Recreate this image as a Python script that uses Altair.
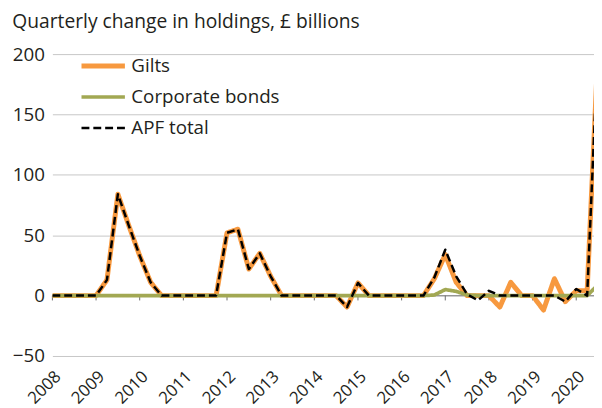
import altair as alt
import pandas as pd

# Quarterly periods, 2007 Q4 to 2020 Q2 (plotted at quarter end)
quarters = [f"{y} Q{q}" for y in range(2007, 2021) for q in range(1, 5)][3:-2]

gilts = [0, 0, 0, 0, 0, 13, 84, 58, 33, 11,
         0, 0, 0, 0, 0, 0, 52, 55, 22, 35,
         16, 0, 0, 0, 0, 0, 0, -9.5, 10.5, 0,
         0, 0, 0, 0, 0, 14, 34, 11, 0, 0,
         0, -9.5, 11, 0, 0, -12, 14, -5, 4, 4,
         205]
corporate = [0, 0, 0, 0, 0, 0, 0, 0, 0, 0,
             0, 0, 0, 0, 0, 0, 0, 0, 0, 0,
             0, 0, 0, 0, 0, 0, 0, 0, 0, 0,
             0, 0, 0, 0, 0, 0.5, 5, 3.5, 0.5, 0,
             0, 0, 0, 0, 0, 0, 0, 0, 0, 0,
             9]
apf_total = [0, 0, 0, 0, 0, 13, 84, 58, 33, 11,
             0, 0, 0, 0, 0, 0, 52, 55, 22, 35,
             16, 0, 0, 0, 0, 0, 0, -9.5, 10.5, 0,
             0, 0, 0, 0, 0, 15, 38, 16, 1, -4,
             4, 0, 0, 0, 0, 0, 0, -5, 5.5, 0,
             210]

series_names = ["Gilts", "Corporate bonds", "APF total"]
series_colors = ["#f7993f", "#a2a853", "#000000"]
series_widths = [5, 2.5, 3]
series_dashes = [[1, 0], [1, 0], [8, 4]]

year_ticks = list(range(2008, 2021))
y_ticks = [-50, 0, 50, 100, 150, 200]

def quarter_end(label):
    y, q = label.split(" Q")
    return int(y) + int(q) / 4

rows = []
for name, vals in zip(series_names, [gilts, corporate, apf_total]):
    for qt, v in zip(quarters, vals):
        rows.append({"quarter": qt, "t": quarter_end(qt), "value": v, "series": name})
df = pd.DataFrame(rows)

FONT = "Open Sans"
TXT = "#231f20"

x_scale = alt.Scale(domain=[2008, 2020.407], nice=False, zero=False)
y_scale = alt.Scale(domain=[-50, 200], nice=False, zero=False)

legend = alt.Legend(
    title=None, orient="none", legendX=27, legendY=2, direction="vertical",
    symbolType="stroke", symbolSize=1936, clipHeight=20, rowPadding=11.5,
    labelOffset=4, labelFontSize=19, labelFont=FONT, labelColor=TXT, padding=0,
)

lines = alt.Chart(df).mark_line(clip=True, strokeJoin="round").encode(
    x=alt.X("t:Q", scale=x_scale, title=None,
            axis=alt.Axis(values=year_ticks, format="d", labelAngle=-45,
                          labelAlign="right", labelBaseline="middle",
                          ticks=False, domain=False, grid=False,
                          labelPadding=18, labelOffset=5.5, labelFontSize=17,
                          labelFont=FONT, labelColor=TXT, labelOverlap=False)),
    y=alt.Y("value:Q", scale=y_scale, title=None,
            axis=alt.Axis(values=y_ticks, grid=True, gridColor="#c6c6c6",
                          gridWidth=1, domain=False, ticks=False, labelPadding=8,
                          labelFontSize=19, labelFont=FONT, labelColor=TXT)),
    color=alt.Color("series:N", scale=alt.Scale(domain=series_names, range=series_colors), legend=legend),
    strokeDash=alt.StrokeDash("series:N", scale=alt.Scale(domain=series_names, range=series_dashes), legend=legend),
    strokeWidth=alt.StrokeWidth("series:N", scale=alt.Scale(domain=series_names, range=series_widths), legend=legend),
    order=alt.Order("t:Q"),
)

zero_line = alt.Chart(pd.DataFrame({"value": [0]})).mark_rule(color="#8a8a8a", strokeWidth=1).encode(
    y=alt.Y("value:Q", scale=y_scale)
)

tick_marks = alt.Chart(pd.DataFrame({"t": year_ticks})).mark_rule(color="#6d6d6d", strokeWidth=1).encode(
    x=alt.X("t:Q", scale=x_scale),
    y=alt.datum(0),
    y2=alt.datum(-4),
)

chart = alt.layer(zero_line, tick_marks, lines).properties(
    width=549, height=306,
    title=alt.TitleParams("Quarterly change in holdings, £ billions", anchor="start",
                          frame="bounds", fontSize=19.5, font=FONT, fontWeight="normal",
                          color=TXT, offset=13),
    autosize=alt.AutoSizeParams(type="none"),
    padding={"left": 45, "top": 44, "right": 0, "bottom": 50},
).configure_view(stroke=None)

chart.save("out.html", embed_options={"renderer": "svg", "actions": False})
